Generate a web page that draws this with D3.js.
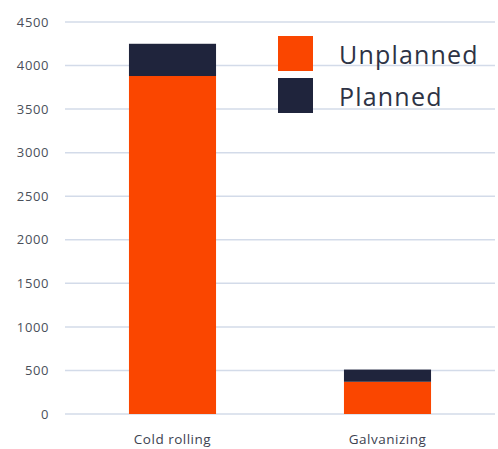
<!DOCTYPE html>
<html>
<head>
<meta charset="utf-8">
<script src="https://cdn.jsdelivr.net/npm/d3@7"></script>
<style>
  body { margin: 0; background: #fff; }
  text { font-family: "Open Sans", sans-serif; }
</style>
</head>
<body>
<div class="graph"></div>
<script>
var categories = ["Cold rolling", "Galvanizing"];
var unplanned = [3880, 370];
var planned = [370, 140];
var yTicks = [0, 500, 1000, 1500, 2000, 2500, 3000, 3500, 4000, 4500];
var seriesNames = ["Unplanned", "Planned"];
var seriesColors = ["#fa4600", "#1f243c"];

var width = 498,
    height = 449;

var svg = d3.select('.graph').append("svg")
    .attr("width", width)
    .attr("height", height);

var x = d3.scaleBand()
    .domain(categories)
    .range([65, 495])
    .paddingInner(0.595)
    .paddingOuter(0.2975);

var y = d3.scaleLinear()
    .domain([0, 4500])
    .range([414, 22]);

// gridlines
svg.append("g")
    .selectAll("line")
    .data(yTicks)
    .enter().append("line")
    .attr("x1", 65)
    .attr("x2", 495)
    .attr("y1", function(d) { return y(d); })
    .attr("y2", function(d) { return y(d); })
    .attr("stroke", "#d3dbe9")
    .attr("stroke-width", 1.5);

// y axis labels
var yAxis = svg.append("g")
    .attr("transform", "translate(57,0)")
    .call(d3.axisLeft(y).tickValues(yTicks).tickFormat(d3.format("d")).tickSize(0).tickPadding(8));
yAxis.select(".domain").remove();
yAxis.selectAll("text")
    .style("font-size", "13px")
    .style("letter-spacing", "0.6px")
    .attr("fill", "#4a4f5a");

// x axis labels
var xAxis = svg.append("g")
    .attr("transform", "translate(0,430)")
    .call(d3.axisBottom(x).tickSize(0).tickPadding(4));
xAxis.select(".domain").remove();
xAxis.selectAll("text")
    .style("font-size", "13.5px")
    .style("letter-spacing", "0.5px")
    .attr("fill", "#3d4250");

var data = categories.map(function(c, i) {
    return { category: c, Unplanned: unplanned[i], Planned: planned[i] };
});

var stacked = d3.stack().keys(seriesNames)(data);

svg.append("g")
    .selectAll("g")
    .data(stacked)
    .enter().append("g")
    .attr("fill", function(d, i) { return seriesColors[i]; })
    .selectAll("rect")
    .data(function(d) { return d; })
    .enter().append("rect")
    .attr("x", function(d) { return x(d.data.category); })
    .attr("width", x.bandwidth())
    .attr("y", function(d) { return y(d[1]); })
    .attr("height", function(d) { return y(d[0]) - y(d[1]); });

// legend
var legend = svg.append("g")
    .selectAll("g")
    .data(seriesNames)
    .enter().append("g")
    .attr("transform", function(d, i) { return "translate(278," + (36 + i * 42) + ")"; });

legend.append("rect")
    .attr("width", 35)
    .attr("height", 35)
    .attr("fill", function(d, i) { return seriesColors[i]; });

legend.append("text")
    .attr("x", 61)
    .attr("y", 28)
    .style("font-size", "25px")
    .style("letter-spacing", "1.2px")
    .attr("fill", "#2e3345")
    .text(function(d) { return d; });
</script>
</body>
</html>
